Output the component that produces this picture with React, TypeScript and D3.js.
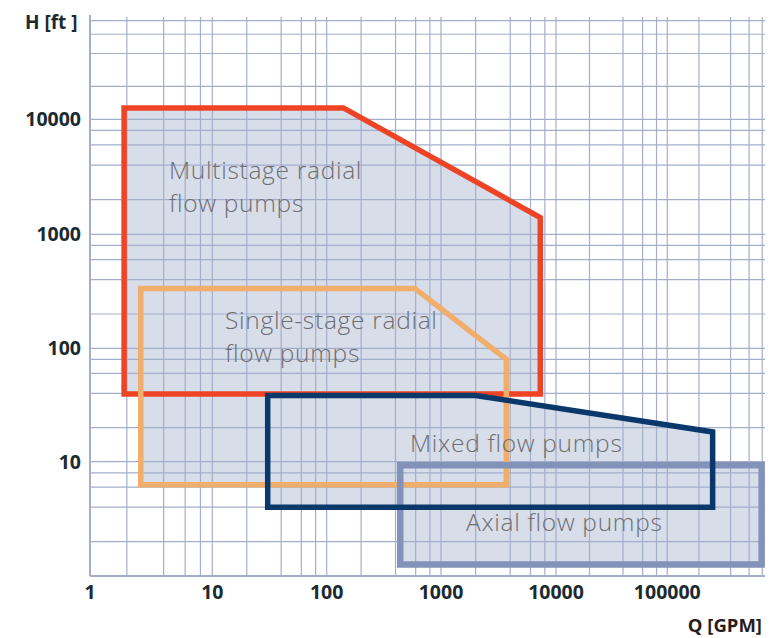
import * as d3 from "d3";

// axis ticks
const qTicks = [1, 10, 100, 1000, 10000, 100000];
const qTickLabels = ["1", "10", "100", "1000", "10000", "100000"];
const hTicks = [10, 100, 1000, 10000];
const hTickLabels = ["10", "100", "1000", "10000"];
const minorSteps = [2, 4, 6, 8];

// pump ranges as [Q (GPM), H (ft)] corners
const multistageRadial: [number, number][] = [
  [1.9, 12700],
  [140, 12700],
  [7300, 1400],
  [7300, 39.5],
  [1.9, 39.5],
];
const singleStageRadial: [number, number][] = [
  [2.6, 335],
  [590, 335],
  [3700, 80],
  [3700, 6.3],
  [2.6, 6.3],
];
const mixedFlow: [number, number][] = [
  [30.5, 38.4],
  [2000, 38.4],
  [270000, 18.3],
  [270000, 4],
  [30.5, 4],
];
const axialFlow: [number, number][] = [
  [440, 9.3],
  [790000, 9.3],
  [790000, 1.26],
  [440, 1.26],
];

const W = 775;
const H = 638;

// the printed grid is not quite regular, so each decade is pinned separately
const x = d3
  .scaleLog()
  .domain([1, 10, 100, 1000, 10000, 100000, 850000])
  .range([90, 212.3, 326.7, 441, 556, 667.3, 765]);
const y = d3
  .scaleLog()
  .domain([1, 10, 100, 1000, 10000, 90000])
  .range([576, 461.7, 348.3, 234.3, 119.3, 15]);

const FILL = "#d7dde9";
const GRID = "#a3aecb";
const LABEL = "#6e6e72";
const FONT = "'Open Sans', 'Noto Sans', sans-serif";

function gridValues(majors: number[], max: number) {
  const out: number[] = [];
  majors.forEach((m) => {
    out.push(m);
    minorSteps.forEach((s) => {
      if (m * s <= max) out.push(m * s);
    });
  });
  return out;
}

export default function App() {
  const line = d3
    .line<[number, number]>()
    .x((d) => x(d[0]))
    .y((d) => y(d[1]))
    .curve(d3.curveLinearClosed);

  const [qMin, qMax] = [x.domain()[0], x.domain()[x.domain().length - 1]];
  const [hMin, hMax] = [y.domain()[0], y.domain()[y.domain().length - 1]];

  const vLines = gridValues(qTicks, qMax).filter((v) => v > qMin);
  const hLines = gridValues([1, ...hTicks], hMax).filter((v) => v > hMin);

  const regions = [multistageRadial, singleStageRadial, mixedFlow, axialFlow];
  const outlines = [
    { pts: multistageRadial, color: "#ee4325", w: 5.5 },
    { pts: singleStageRadial, color: "#f0ad6b", w: 5.5 },
    { pts: axialFlow, color: "#8392b8", w: 6.5 },
    { pts: mixedFlow, color: "#0a386b", w: 5.5 },
  ];

  return (
    <div style={{ position: "absolute", left: 0, top: 0 }}>
      <svg width={W} height={H} style={{ display: "block", background: "#fff" }}>
        {regions.map((r, i) => (
          <path key={i} d={line(r) || ""} fill={FILL} />
        ))}

        <g stroke={GRID} strokeWidth={1.2}>
          {vLines.map((v) => (
            <line key={"v" + v} x1={x(v)} x2={x(v)} y1={17} y2={y(hMin)} />
          ))}
          {hLines.map((v) => (
            <line key={"h" + v} x1={x(qMin)} x2={x(qMax)} y1={y(v)} y2={y(v)} />
          ))}
        </g>
        <g stroke={GRID} strokeWidth={2}>
          <line x1={x(qMin)} x2={x(qMin)} y1={y(hMax)} y2={y(hMin)} />
          <line x1={x(qMin)} x2={x(qMax)} y1={y(hMin)} y2={y(hMin)} />
        </g>

        {outlines.map((o, i) => (
          <path
            key={i}
            d={line(o.pts) || ""}
            fill="none"
            stroke={o.color}
            strokeWidth={o.w}
            strokeLinejoin="miter"
          />
        ))}

        <g fontFamily={FONT} fontWeight={300} fontSize={24.5} letterSpacing={0.7} fill={LABEL}>
          <text x={169} y={178.5}>Multistage radial</text>
          <text x={169} y={211.5}>flow pumps</text>
          <text x={225} y={328.5}>Single-stage radial</text>
          <text x={225} y={361.5}>flow pumps</text>
          <text x={410} y={452}>Mixed flow pumps</text>
          <text x={466} y={531}>Axial flow pumps</text>
        </g>

        <g fontFamily={FONT} fontWeight={700} fontSize={19.5} fill="#1b2a31">
          {hTicks.map((v, i) => (
            <text key={v} x={81} y={y(v)} dy="0.35em" textAnchor="end">
              {hTickLabels[i]}
            </text>
          ))}
          {qTicks.map((v, i) => (
            <text key={v} x={x(v)} y={599} textAnchor="middle">
              {qTickLabels[i]}
            </text>
          ))}
          <text x={25} y={28.5} fontSize={19}>
            H [ft ]
          </text>
          <text x={762} y={632} fontSize={18.5} textAnchor="end" fill="#2b1c1c">
            Q [GPM]
          </text>
        </g>
      </svg>
    </div>
  );
}
